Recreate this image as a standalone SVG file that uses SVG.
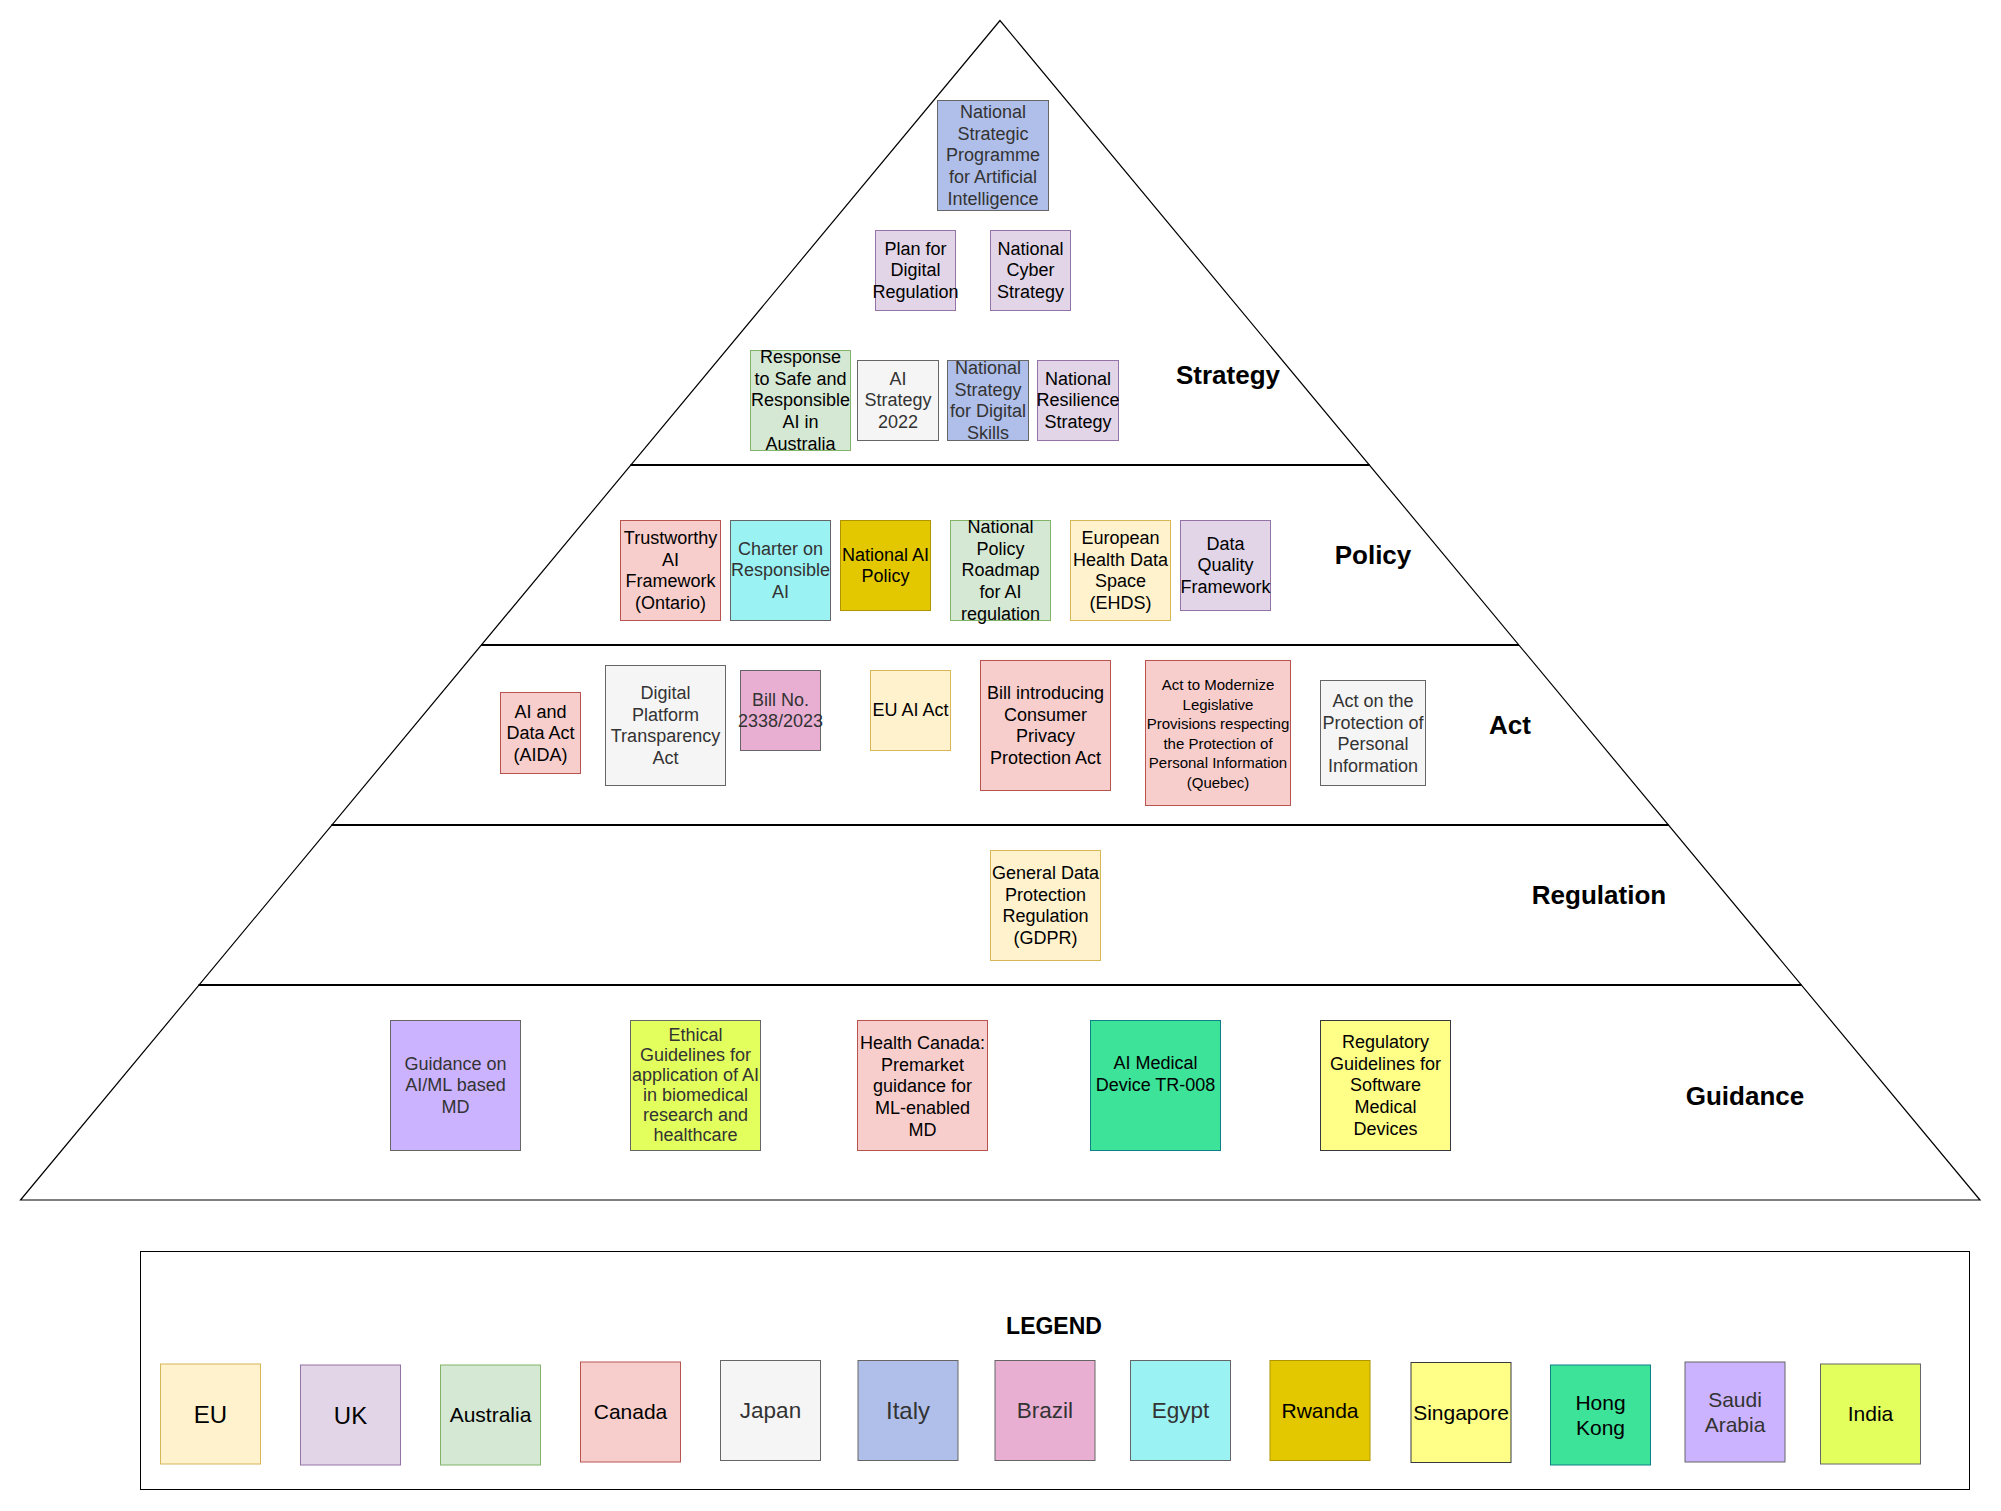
<svg xmlns="http://www.w3.org/2000/svg" width="2001" height="1511" viewBox="0 0 2001 1511">
<style>
text{font-family:"Liberation Sans",Arial,Helvetica,sans-serif;text-anchor:middle;fill:#000}
.t{font-size:18px}
.s{font-size:15px}
.g{fill:#333}
.lbl{font-size:26px;font-weight:bold}
.eu{fill:#fff2cc;stroke:#d6b656}
.uk{fill:#e1d5e7;stroke:#9673a6}
.au{fill:#d5e8d4;stroke:#82b366}
.ca{fill:#f8cecc;stroke:#b85450}
.jp{fill:#f5f5f5;stroke:#666}
.it{fill:#b0bfea;stroke:#666}
.br{fill:#e9afd3;stroke:#666}
.eg{fill:#9af2f3;stroke:#666}
.rw{fill:#e3c800;stroke:#b09500}
.sg{fill:#ffff88;stroke:#36393d}
.hk{fill:#3ee39a;stroke:#0e8088}
.sa{fill:#cbb3ff;stroke:#666}
.in{fill:#e3ff5e;stroke:#666}
rect{stroke-width:1}
</style>
<rect width="2001" height="1511" fill="#fff"/>
<g id="pyramid" fill="none" stroke="#000">
<polygon points="1000,20.5 20.5,1200 1980,1200" stroke-width="1.2" fill="#fff"/>
<line x1="630.4" y1="465" x2="1369.6" y2="465" stroke-width="2"/>
<line x1="481" y1="645" x2="1519" y2="645" stroke-width="2"/>
<line x1="331.4" y1="825" x2="1668.6" y2="825" stroke-width="2"/>
<line x1="198.5" y1="985" x2="1801.5" y2="985" stroke-width="2"/>
</g>
<g id="labels">
<text class="lbl" x="1228" y="384.2">Strategy</text>
<text class="lbl" x="1373" y="564.2">Policy</text>
<text class="lbl" x="1510" y="734.2">Act</text>
<text class="lbl" x="1599" y="904.2">Regulation</text>
<text class="lbl" x="1745" y="1105.2">Guidance</text>
</g>
<g id="connectors"></g>
<!-- Strategy -->
<g id="n-nspai"><rect class="it" x="937.5" y="100.5" width="111" height="110"/><text class="t g" x="993" y="118.1"><tspan x="993">National</tspan><tspan x="993" dy="21.6">Strategic</tspan><tspan x="993" dy="21.6">Programme</tspan><tspan x="993" dy="21.6">for Artificial</tspan><tspan x="993" dy="21.6">Intelligence</tspan></text></g>
<g id="n-plan"><rect class="uk" x="875.5" y="230.5" width="80" height="80"/><text class="t" x="915.5" y="254.7"><tspan x="915.5">Plan for</tspan><tspan x="915.5" dy="21.6">Digital</tspan><tspan x="915.5" dy="21.6">Regulation</tspan></text></g>
<g id="n-cyber"><rect class="uk" x="990.5" y="230.5" width="80" height="80"/><text class="t" x="1030.5" y="254.7"><tspan x="1030.5">National</tspan><tspan x="1030.5" dy="21.6">Cyber</tspan><tspan x="1030.5" dy="21.6">Strategy</tspan></text></g>
<g id="n-response"><rect class="au" x="750.5" y="350.5" width="100" height="100"/><text class="t" x="800.5" y="363.1"><tspan x="800.5">Response</tspan><tspan x="800.5" dy="21.6">to Safe and</tspan><tspan x="800.5" dy="21.6">Responsible</tspan><tspan x="800.5" dy="21.6">AI in</tspan><tspan x="800.5" dy="21.6">Australia</tspan></text></g>
<g id="n-aistrategy"><rect class="jp" x="857.5" y="360.5" width="81" height="80"/><text class="t g" x="898" y="384.7"><tspan x="898">AI</tspan><tspan x="898" dy="21.6">Strategy</tspan><tspan x="898" dy="21.6">2022</tspan></text></g>
<g id="n-skills"><rect class="it" x="947.5" y="360.5" width="81" height="80"/><text class="t g" x="988" y="373.9"><tspan x="988">National</tspan><tspan x="988" dy="21.6">Strategy</tspan><tspan x="988" dy="21.6">for Digital</tspan><tspan x="988" dy="21.6">Skills</tspan></text></g>
<g id="n-resilience"><rect class="uk" x="1037.5" y="360.5" width="81" height="80"/><text class="t" x="1078" y="384.7"><tspan x="1078">National</tspan><tspan x="1078" dy="21.6">Resilience</tspan><tspan x="1078" dy="21.6">Strategy</tspan></text></g>
<!-- Policy -->
<g id="n-trustworthy"><rect class="ca" x="620.5" y="520.5" width="100" height="100"/><text class="t" x="670.5" y="543.9"><tspan x="670.5">Trustworthy</tspan><tspan x="670.5" dy="21.6">AI</tspan><tspan x="670.5" dy="21.6">Framework</tspan><tspan x="670.5" dy="21.6">(Ontario)</tspan></text></g>
<g id="n-charter"><rect class="eg" x="730.5" y="520.5" width="100" height="100"/><text class="t g" x="780.5" y="554.7"><tspan x="780.5">Charter on</tspan><tspan x="780.5" dy="21.6">Responsible</tspan><tspan x="780.5" dy="21.6">AI</tspan></text></g>
<g id="n-naip"><rect class="rw" x="840.5" y="520.5" width="90" height="90"/><text class="t" x="885.5" y="560.5"><tspan x="885.5">National AI</tspan><tspan x="885.5" dy="21.6">Policy</tspan></text></g>
<g id="n-roadmap"><rect class="au" x="950.5" y="520.5" width="100" height="100"/><text class="t" x="1000.5" y="533.1"><tspan x="1000.5">National</tspan><tspan x="1000.5" dy="21.6">Policy</tspan><tspan x="1000.5" dy="21.6">Roadmap</tspan><tspan x="1000.5" dy="21.6">for AI</tspan><tspan x="1000.5" dy="21.6">regulation</tspan></text></g>
<g id="n-ehds"><rect class="eu" x="1070.5" y="520.5" width="100" height="100"/><text class="t" x="1120.5" y="543.9"><tspan x="1120.5">European</tspan><tspan x="1120.5" dy="21.6">Health Data</tspan><tspan x="1120.5" dy="21.6">Space</tspan><tspan x="1120.5" dy="21.6">(EHDS)</tspan></text></g>
<g id="n-dqf"><rect class="uk" x="1180.5" y="520.5" width="90" height="90"/><text class="t" x="1225.5" y="549.7"><tspan x="1225.5">Data</tspan><tspan x="1225.5" dy="21.6">Quality</tspan><tspan x="1225.5" dy="21.6">Framework</tspan></text></g>
<!-- Act -->
<g id="n-aida"><rect class="ca" x="500.5" y="692.5" width="80" height="81"/><text class="t" x="540.5" y="717.7"><tspan x="540.5">AI and</tspan><tspan x="540.5" dy="21.6">Data Act</tspan><tspan x="540.5" dy="21.6">(AIDA)</tspan></text></g>
<g id="n-dpta"><rect class="jp" x="605.5" y="665.5" width="120" height="120"/><text class="t g" x="665.5" y="698.9"><tspan x="665.5">Digital</tspan><tspan x="665.5" dy="21.6">Platform</tspan><tspan x="665.5" dy="21.6">Transparency</tspan><tspan x="665.5" dy="21.6">Act</tspan></text></g>
<g id="n-bill2338"><rect class="br" x="740.5" y="670.5" width="80" height="80"/><text class="t g" x="780.5" y="705.5"><tspan x="780.5">Bill No.</tspan><tspan x="780.5" dy="21.6">2338/2023</tspan></text></g>
<g id="n-euaiact"><rect class="eu" x="870.5" y="670.5" width="80" height="80"/><text class="t" x="910.5" y="716.3">EU AI Act</text></g>
<g id="n-cppa"><rect class="ca" x="980.5" y="660.5" width="130" height="130"/><text class="t" x="1045.5" y="698.9"><tspan x="1045.5">Bill introducing</tspan><tspan x="1045.5" dy="21.6">Consumer</tspan><tspan x="1045.5" dy="21.6">Privacy</tspan><tspan x="1045.5" dy="21.6">Protection Act</tspan></text></g>
<g id="n-quebec"><rect class="ca" x="1145.5" y="660.5" width="145" height="145"/><text class="s" x="1218" y="690.3"><tspan x="1218">Act to Modernize</tspan><tspan x="1218" dy="19.5">Legislative</tspan><tspan x="1218" dy="19.5">Provisions respecting</tspan><tspan x="1218" dy="19.5">the Protection of</tspan><tspan x="1218" dy="19.5">Personal Information</tspan><tspan x="1218" dy="19.5">(Quebec)</tspan></text></g>
<g id="n-appi"><rect class="jp" x="1320.5" y="680.5" width="105" height="105"/><text class="t g" x="1373" y="707.1"><tspan x="1373">Act on the</tspan><tspan x="1373" dy="21.6">Protection of</tspan><tspan x="1373" dy="21.6">Personal</tspan><tspan x="1373" dy="21.6">Information</tspan></text></g>
<!-- Regulation -->
<g id="n-gdpr"><rect class="eu" x="990.5" y="850.5" width="110" height="110"/><text class="t" x="1045.5" y="878.9"><tspan x="1045.5">General Data</tspan><tspan x="1045.5" dy="21.6">Protection</tspan><tspan x="1045.5" dy="21.6">Regulation</tspan><tspan x="1045.5" dy="21.6">(GDPR)</tspan></text></g>
<!-- Guidance -->
<g id="n-aimlmd"><rect class="sa" x="390.5" y="1020.5" width="130" height="130"/><text class="t g" x="455.5" y="1069.7"><tspan x="455.5">Guidance on</tspan><tspan x="455.5" dy="21.6">AI/ML based</tspan><tspan x="455.5" dy="21.6">MD</tspan></text></g>
<g id="n-ethical"><rect class="in" x="630.5" y="1020.5" width="130" height="130"/><text class="t g" x="695.5" y="1040.6"><tspan x="695.5">Ethical</tspan><tspan x="695.5" dy="20">Guidelines for</tspan><tspan x="695.5" dy="20">application of AI</tspan><tspan x="695.5" dy="20">in biomedical</tspan><tspan x="695.5" dy="20">research and</tspan><tspan x="695.5" dy="20">healthcare</tspan></text></g>
<g id="n-healthcanada"><rect class="ca" x="857.5" y="1020.5" width="130" height="130"/><text class="t" x="922.5" y="1049.1"><tspan x="922.5">Health Canada:</tspan><tspan x="922.5" dy="21.6">Premarket</tspan><tspan x="922.5" dy="21.6">guidance for</tspan><tspan x="922.5" dy="21.6">ML-enabled</tspan><tspan x="922.5" dy="21.6">MD</tspan></text></g>
<g id="n-tr008"><rect class="hk" x="1090.5" y="1020.5" width="130" height="130"/><text class="t" x="1155.5" y="1069"><tspan x="1155.5">AI Medical</tspan><tspan x="1155.5" dy="21.6">Device TR-008</tspan></text></g>
<g id="n-samd"><rect class="sg" x="1320.5" y="1020.5" width="130" height="130"/><text class="t" x="1385.5" y="1048.1"><tspan x="1385.5">Regulatory</tspan><tspan x="1385.5" dy="21.6">Guidelines for</tspan><tspan x="1385.5" dy="21.6">Software</tspan><tspan x="1385.5" dy="21.6">Medical</tspan><tspan x="1385.5" dy="21.6">Devices</tspan></text></g>
<!-- Legend -->
<g id="legend">
<rect x="140.5" y="1251.5" width="1829" height="238" fill="none" stroke="#000" stroke-width="1.5"/>
<text x="1054" y="1334" style="font-size:23px;font-weight:bold">LEGEND</text>
<g id="lg-eu"><rect class="eu" x="160.5" y="1364" width="100" height="100"/><text x="210.5" y="1422.5" style="font-size:24px">EU</text></g>
<g id="lg-uk"><rect class="uk" x="300.5" y="1365" width="100" height="100"/><text x="350.5" y="1423.5" style="font-size:24px">UK</text></g>
<g id="lg-au"><rect class="au" x="440.5" y="1365" width="100" height="100"/><text x="490.5" y="1422.4" style="font-size:21px">Australia</text></g>
<g id="lg-ca"><rect class="ca" x="580.5" y="1362" width="100" height="100"/><text x="630.5" y="1419.4" style="font-size:21px">Canada</text></g>
<g id="lg-jp"><rect class="jp" x="720.5" y="1360.5" width="100" height="100"/><text class="g" x="770.5" y="1418.4" style="font-size:22.5px">Japan</text></g>
<g id="lg-it"><rect class="it" x="858" y="1360.5" width="100" height="100"/><text class="g" x="908" y="1419" style="font-size:24px">Italy</text></g>
<g id="lg-br"><rect class="br" x="995" y="1360.5" width="100" height="100"/><text class="g" x="1045" y="1418.4" style="font-size:22.5px">Brazil</text></g>
<g id="lg-eg"><rect class="eg" x="1130.5" y="1360.5" width="100" height="100"/><text class="g" x="1180.5" y="1418.4" style="font-size:22.5px">Egypt</text></g>
<g id="lg-rw"><rect class="rw" x="1270" y="1360.5" width="100" height="100"/><text x="1320" y="1417.9" style="font-size:21px">Rwanda</text></g>
<g id="lg-sg"><rect class="sg" x="1411" y="1362.5" width="100" height="100"/><text x="1461" y="1419.9" style="font-size:21px">Singapore</text></g>
<g id="lg-hk"><rect class="hk" x="1550.5" y="1365" width="100" height="100"/><text x="1600.5" y="1409.6" style="font-size:21px"><tspan x="1600.5">Hong</tspan><tspan x="1600.5" dy="25.2">Kong</tspan></text></g>
<g id="lg-sa"><rect class="sa" x="1685" y="1362" width="100" height="100"/><text class="g" x="1735" y="1406.8" style="font-size:21px"><tspan x="1735">Saudi</tspan><tspan x="1735" dy="25.2">Arabia</tspan></text></g>
<g id="lg-in"><rect class="in" x="1820.5" y="1364" width="100" height="100"/><text x="1870.5" y="1421.4" style="font-size:21px">India</text></g>
</g>
</svg>
